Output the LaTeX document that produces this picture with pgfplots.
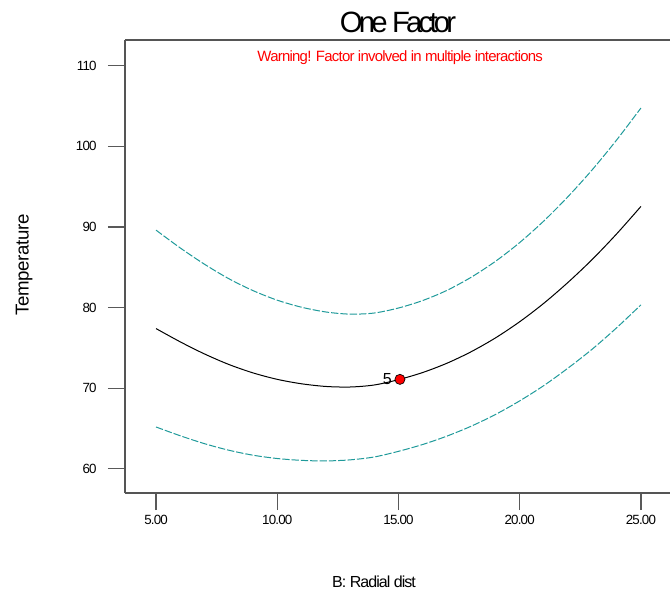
\documentclass[border=0pt]{standalone}
\usepackage{fontspec}
\setmainfont{Liberation Sans}
\usepackage{pgfplots}
\pgfplotsset{compat=1.18}
\definecolor{cicyan}{HTML}{1F9A9A}
\definecolor{axgrey}{HTML}{555555}

\begin{document}
\begin{tikzpicture}
\begin{axis}[
  at={(93.75pt,72.75pt)}, anchor=south west,
  scale only axis, width=408.75pt, height=339.75pt,
  xmin=3.72, xmax=26.2, ymin=57.0, ymax=113.2,
  axis x line*=box, axis y line*=left,
  xtick={5,10,15,20,25}, ytick={60,70,80,90,100,110},
  xtick pos=left, ytick pos=left,
  tick align=outside, major tick length=12.75pt,
  tick style={line width=1pt, color=black!65},
  axis line style={line width=0.9pt, color=axgrey},
  xticklabel style={/pgf/number format/fixed, /pgf/number format/fixed zerofill,
    /pgf/number format/precision=2, font=\fontsize{10}{12}\selectfont\addfontfeature{LetterSpace=-6}},
  yticklabel style={font=\fontsize{10}{12}\selectfont\addfontfeature{LetterSpace=-6}, xshift=-5pt},
  /pgf/number format/assume math mode=true,
  title={\fontsize{22}{24}\selectfont\addfontfeature{LetterSpace=-13}One Factor},
  title style={at={(rel axis cs:0.501,1.022)}, anchor=center},
  xlabel={\addfontfeature{LetterSpace=-6}B: Radial dist},
  xlabel style={at={(rel axis cs:0.457,-0.196)}, anchor=center, font=\fontsize{12}{14}\selectfont},
  ylabel={\addfontfeature{LetterSpace=-2}Temperature},
  ylabel style={at={(rel axis cs:-0.185,0.503)}, anchor=center, rotate=0, font=\fontsize{14}{16}\selectfont},
  clip=false,
]
% upper band
\addplot[cicyan, line width=0.75pt, dash pattern=on 5.5pt off 1.5pt, smooth] coordinates {
 (5,89.61) (6,87.40) (7,85.38) (8,83.59) (9,82.11) (10,80.92) (11,80.05) (12,79.46)
 (13,79.19) (14,79.33) (15,79.95) (16,80.88) (17,82.14) (18,83.77) (19,85.74) (20,88.07)
 (21,90.76) (22,93.79) (23,97.13) (24,100.80) (25,104.76)};
% lower band
\addplot[cicyan, line width=0.75pt, dash pattern=on 5.5pt off 1.5pt, smooth] coordinates {
 (5,65.19) (6,64.10) (7,63.12) (8,62.31) (9,61.69) (10,61.28) (11,61.05) (12,60.98)
 (13,61.11) (14,61.47) (15,62.17) (16,63.02) (17,64.06) (18,65.29) (19,66.74) (20,68.43)
 (21,70.34) (22,72.51) (23,74.87) (24,77.50) (25,80.34)};
% prediction
\addplot[black, line width=0.75pt, smooth] coordinates {
 (5,77.40) (6,75.75) (7,74.25) (8,72.95) (9,71.90) (10,71.10) (11,70.55) (12,70.22)
 (13,70.15) (14,70.40) (15,71.06) (16,71.95) (17,73.10) (18,74.53) (19,76.24) (20,78.25)
 (21,80.55) (22,83.15) (23,86.00) (24,89.15) (25,92.55)};
% design point
\addplot[only marks, mark=*, mark size=3.8pt, mark options={fill=red, draw=black, line width=0.5pt},
  nodes near coords={5},
  every node near coord/.style={anchor=east, xshift=-2.5pt, font=\fontsize{12}{14}\selectfont}]
  coordinates {(15.06,71.1)};
\node[text=red, font=\fontsize{11.2}{13}\selectfont\addfontfeature{LetterSpace=-5}]
  at (rel axis cs:0.505,0.962) {Warning! Factor involved in multiple interactions};
\end{axis}
\pgfresetboundingbox
\useasboundingbox (0,0) rectangle (502.5pt,442.5pt);
\end{tikzpicture}
\end{document}
